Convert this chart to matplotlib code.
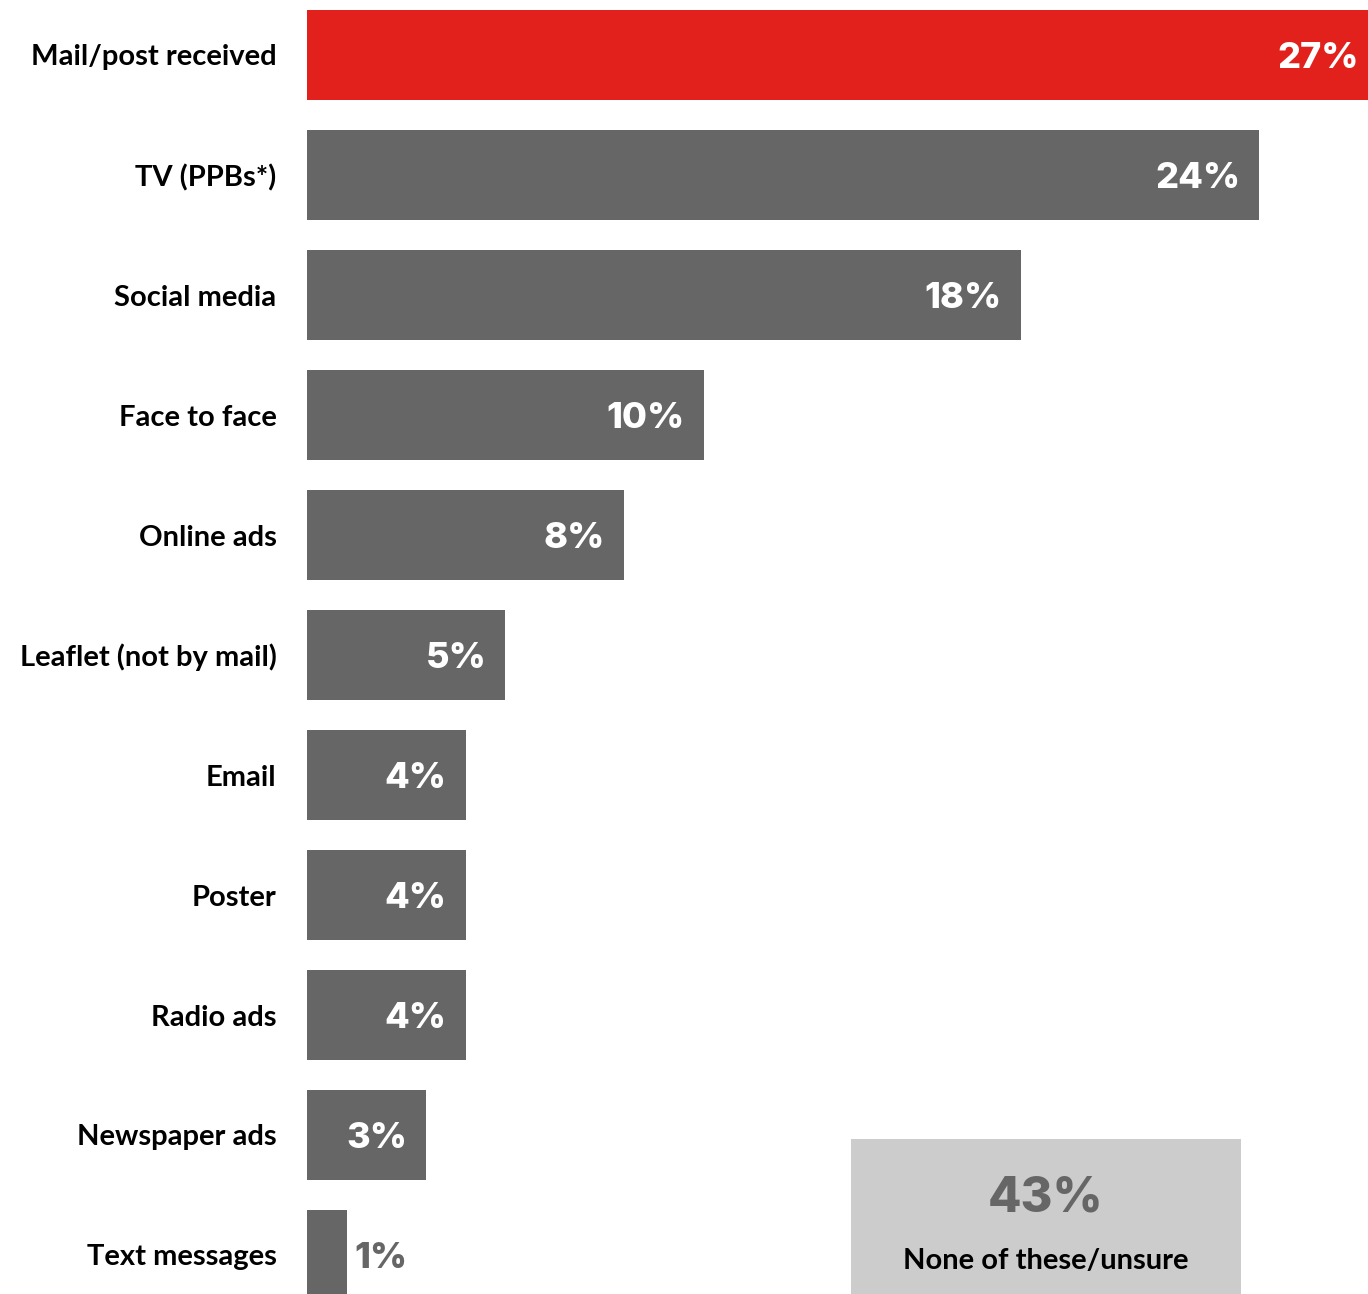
import matplotlib
matplotlib.use("Agg")
import matplotlib.pyplot as plt
from matplotlib.patches import Rectangle

RED = "#e2211c"
GREY = "#666666"
BOX_BG = "#cccccc"

categories = ["Mail/post received", "TV (PPBs*)", "Social media", "Face to face",
              "Online ads", "Leaflet (not by mail)", "Email", "Poster",
              "Radio ads", "Newspaper ads", "Text messages"]
values = [27, 24, 18, 10, 8, 5, 4, 4, 4, 3, 1]
none_value = 43
none_label = "None of these/unsure"

W, H = 1368, 1294
fig = plt.figure(figsize=(W / 100, H / 100), dpi=100)

# axes starts at the bar baseline and runs off the right/bottom edges
ax = fig.add_axes([307 / W, 0, 1 - 307 / W, 1])
ypos = list(range(len(categories)))
colors = [RED] + [GREY] * (len(values) - 1)
ax.barh(ypos, values, height=0.75, color=colors)
ax.set_xlim(0, (W - 307) / 39.67)
ax.set_ylim((H - 55) / 120, -55 / 120)

for s in ax.spines.values():
    s.set_visible(False)
ax.set_xticks([])
ax.set_yticks(ypos)
ax.set_yticklabels(categories, fontfamily="Lato", fontweight="bold", fontsize=21, color="black")
ax.tick_params(axis="y", length=0, pad=22)

px = 0.72  # points per pixel at dpi 100
for y, v in zip(ypos, values):
    if v >= 3:
        ax.annotate(f"{v}%", (v, y), xytext=(-19 * px, -3 * px), textcoords="offset points",
                    ha="right", va="center", color="white", fontsize=26,
                    fontfamily="Inter", fontweight="heavy", annotation_clip=False)
    else:
        ax.annotate(f"{v}%", (v, y), xytext=(8 * px, -3 * px), textcoords="offset points",
                    ha="left", va="center", color=GREY, fontsize=26,
                    fontfamily="Inter", fontweight="heavy", annotation_clip=False)

# "none of these" callout box in the lower right
bx0, bx1, by_top = 851, 1241, 1139
fig.add_artist(Rectangle((bx0 / W, -0.01), (bx1 - bx0) / W, 1 - by_top / H + 0.01,
                         transform=fig.transFigure, facecolor=BOX_BG, edgecolor="none"))
cx = (bx0 + bx1) / 2 / W
fig.text(cx, 1 - 1199 / H, f"{none_value}%", ha="center", va="center", color=GREY,
         fontsize=35, fontfamily="Inter", fontweight="heavy")
fig.text(cx, 1 - 1261 / H, none_label, ha="center", va="center", color="black",
         fontsize=21, fontfamily="Lato", fontweight="bold")

fig.savefig("out.png", dpi=100, facecolor="white")
